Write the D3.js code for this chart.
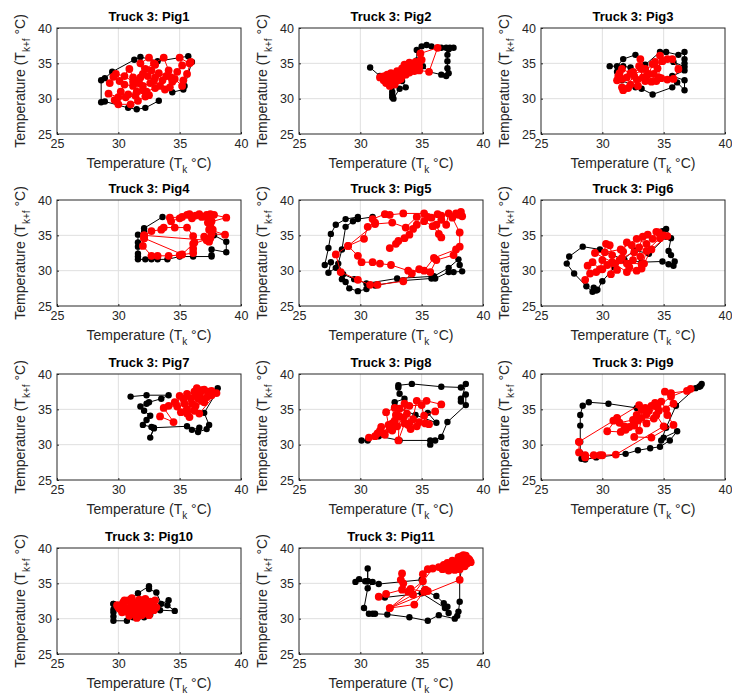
<!DOCTYPE html>
<html>
<head>
<meta charset="utf-8">
<script src="https://cdn.jsdelivr.net/npm/d3@7"></script>
<style>
  body { margin: 0; background: #fff; }
  text { font-family: "Liberation Sans", Arial, sans-serif; }
</style>
</head>
<body>
<div id="chart"></div>
<script>
// axis ticks shared by every panel
const xTicks = [25, 30, 35, 40];
const yTicks = [25, 30, 35, 40];
const pigNames = ["Pig1", "Pig2", "Pig3", "Pig4", "Pig5", "Pig6", "Pig7", "Pig8", "Pig9", "Pig10", "Pig11"];

// each series is a path of [T_k, T_k+f] points
const pig1Black = [[33.3,29.7],[32.2,28.7],[31.5,28.5],[30.8,28.7],[28.9,29.6],[28.6,29.5],[28.6,32.6],[28.9,32.9],[29.5,33.8],[31.3,35.5],[31.8,35.9],[33.2,35.3],[35.7,36.0],[36.0,35.2],[35.4,31.8],[35.3,31.3],[34.4,30.9]];
const pig1Red = [[29.3,32.2],[29.6,33.1],[30.1,32.5],[30.9,34.2],[31.2,33.0],[31.7,32.2],[31.5,31.0],[30.8,30.6],[30.0,30.2],[29.2,30.7],[29.7,29.8],[30.0,29.2],[31.0,29.2],[31.6,29.7],[32.2,30.3],[32.5,30.5],[32.0,31.2],[31.5,32.5],[32.0,33.5],[31.8,35.0],[32.5,35.8],[33.0,34.8],[32.7,34.0],[32.4,33.2],[32.9,32.5],[33.4,31.8],[33.8,31.3],[34.2,31.6],[34.4,32.4],[33.9,33.2],[33.3,33.6],[33.0,33.0],[32.6,32.2],[32.0,31.8],[31.2,31.8],[30.5,32.0],[30.2,31.0],[30.6,30.2],[31.4,30.4],[32.3,31.0],[33.0,31.5],[33.6,32.6],[34.3,33.0],[34.8,33.8],[35.2,34.7],[35.0,35.8],[35.8,35.0],[35.9,35.2],[35.6,33.5],[35.3,32.6],[35.2,31.8],[34.6,32.8],[34.1,34.0],[33.7,35.8],[32.9,35.0],[32.2,34.2],[31.8,33.0],[31.2,32.4],[30.5,33.2],[29.8,33.5]];

const pig2Black = [[30.8,34.4],[31.6,33.2],[32.2,32.6],[32.6,31.8],[32.6,31.0],[32.6,30.6],[32.6,30.2],[32.7,30.0],[33.2,31.4],[33.7,31.6],[33.4,32.5],[34.0,34.0],[34.6,35.4],[34.6,36.9],[35.0,37.4],[35.4,37.6],[35.8,37.4],[36.6,37.2],[37.0,37.2],[37.3,37.2],[37.6,37.2],[37.2,37.0],[37.1,36.2],[37.1,35.3],[37.1,34.3],[37.2,33.6],[37.0,33.2],[36.6,33.4],[35.6,33.8],[35.1,34.6]];
const pig2Red = [[31.6,33.0],[31.9,32.6],[32.3,32.9],[32.6,32.3],[32.4,31.8],[32.8,32.0],[33.1,32.6],[33.4,33.2],[33.0,33.6],[32.6,33.3],[32.2,33.4],[31.8,33.1],[32.1,32.2],[32.7,32.8],[33.3,32.8],[33.7,33.4],[33.5,34.0],[33.8,34.5],[34.0,35.1],[34.3,34.8],[34.6,34.4],[34.4,33.9],[34.0,33.7],[33.9,34.2],[34.5,35.2],[34.9,35.4],[34.8,34.6],[35.0,35.5],[34.9,36.4],[36.3,37.2],[35.6,33.8],[34.8,34.0],[34.2,34.6],[33.6,34.8],[33.4,34.3],[33.0,33.9],[32.5,33.6],[32.0,33.2]];

const pig3Black = [[30.6,34.6],[31.2,34.6],[31.7,35.6],[32.7,36.2],[33.5,34.8],[34.7,36.6],[35.2,36.6],[36.2,36.2],[36.7,36.6],[36.7,35.6],[36.7,35.0],[36.7,34.5],[35.8,35.2],[36.7,34.0],[35.7,33.2],[36.7,32.6],[36.7,31.2],[36.1,32.3],[35.7,31.6],[34.1,30.6],[33.2,31.4],[32.7,31.6],[31.6,32.6],[31.2,33.8],[31.7,34.6],[32.3,34.4]];
const pig3Red = [[31.3,33.2],[31.2,32.6],[31.6,34.2],[32.3,33.6],[32.6,33.2],[31.7,31.2],[31.6,31.6],[32.1,31.5],[32.3,32.0],[32.9,31.8],[33.3,33.0],[33.0,34.6],[33.1,35.6],[33.5,34.2],[33.8,33.5],[34.1,34.9],[34.3,35.2],[34.2,33.5],[34.6,33.0],[34.7,36.1],[35.3,35.6],[35.7,35.6],[36.2,34.2],[35.8,32.8],[35.3,32.7],[34.8,32.9],[34.4,32.5],[33.5,32.5],[32.8,32.7],[32.5,33.8],[33.2,34.2],[33.6,33.2],[34.0,32.4],[34.5,34.3],[34.9,35.3],[32.0,33.0],[31.6,32.8],[31.4,33.6]];

const pig4Black = [[33.6,37.6],[32.1,36.0],[32.1,35.5],[31.6,35.1],[31.6,34.0],[31.6,33.4],[31.6,32.4],[31.6,32.0],[31.6,31.6],[32.2,31.6],[32.7,31.6],[33.2,31.6],[34.0,31.6],[35.0,32.0],[36.1,32.0],[37.6,32.0],[37.6,32.2],[37.6,33.0],[38.8,32.6],[38.8,34.1],[37.8,35.0]];
const pig4Red = [[32.1,34.6],[32.1,35.0],[32.0,33.5],[32.7,32.1],[33.2,32.1],[34.1,32.1],[35.0,32.2],[36.1,32.5],[36.1,33.1],[36.2,34.0],[36.1,34.9],[35.6,36.1],[34.6,36.1],[33.7,36.1],[33.5,35.8],[32.7,35.6],[32.1,35.0],[37.2,34.3],[37.4,34.1],[37.0,34.8],[37.6,35.2],[38.7,35.1],[37.4,35.8],[37.5,36.3],[37.3,36.8],[38.8,37.5],[37.8,37.9],[37.5,38.0],[37.2,37.9],[36.6,38.0],[36.3,37.8],[35.8,38.0],[35.6,37.9],[35.0,37.4],[34.3,37.0],[34.2,37.5],[35.2,37.6],[36.0,37.4],[36.8,37.6],[37.3,37.4],[37.6,37.0],[37.5,36.6],[37.7,35.8],[37.5,34.6],[36.1,33.8],[35.2,32.3],[32.1,34.6]];

const pig5Black = [[29.8,37.6],[28.8,37.3],[28.0,36.5],[27.6,35.2],[27.4,33.2],[27.1,30.8],[27.6,31.2],[27.4,29.7],[28.0,30.4],[28.5,28.8],[28.8,28.4],[29.1,27.5],[29.8,27.1],[30.5,27.4],[31.2,27.9],[33.5,28.6],[35.8,28.9],[36.1,28.9],[37.2,29.8],[37.6,29.8],[38.3,29.9],[38.1,30.8],[38.0,31.6],[37.2,30.4],[36.0,29.2],[33.0,28.9],[30.5,28.2],[29.5,28.8],[28.6,29.5],[28.2,31.0],[28.5,33.0],[28.8,36.2],[29.4,37.0],[29.8,37.3],[31.0,37.6]];
const pig5Red = [[32.4,33.2],[32.9,33.8],[33.1,34.2],[33.6,34.6],[34.0,35.1],[34.3,35.9],[34.6,36.5],[35.2,37.0],[35.9,36.3],[36.4,35.2],[36.6,34.7],[36.2,36.5],[36.6,37.2],[37.0,36.5],[37.2,38.1],[37.8,38.1],[38.2,38.3],[38.3,37.7],[38.0,37.9],[37.5,37.5],[38.1,35.4],[38.1,33.4],[37.6,32.2],[36.2,31.5],[35.7,29.8],[34.8,30.2],[34.2,29.6],[33.5,28.5],[31.4,28.0],[30.8,28.0],[29.8,28.7],[28.4,29.8],[28.0,32.3],[29.0,33.5],[30.3,34.5],[30.6,36.2],[31.2,36.8],[31.0,37.3],[32.0,38.0],[32.4,37.9],[33.5,38.1],[35.2,38.1],[35.8,37.5],[36.3,38.0],[36.6,37.8],[35.5,37.6],[34.6,37.6],[33.7,36.1],[32.6,36.8],[31.2,36.6],[29.0,33.5],[29.8,32.1],[30.1,31.2],[31.0,31.2],[31.6,31.0],[32.5,30.8],[33.9,30.0],[35.2,30.0],[36.0,31.8],[37.8,33.0]];

const pig6Black = [[34.9,35.6],[35.2,35.9],[35.6,34.6],[35.4,32.8],[35.6,32.2],[35.9,31.3],[35.8,30.7],[35.4,30.9],[34.9,31.3],[33.2,31.2],[31.8,31.5],[29.8,33.0],[28.4,33.4],[27.3,32.0],[27.1,31.0],[27.7,29.6],[28.7,27.8],[29.2,27.0],[29.5,27.2],[29.3,27.6],[29.6,27.3],[30.0,28.5],[31.0,30.5],[32.6,32.9],[33.8,32.4],[35.2,34.8]];
const pig6Red = [[28.6,28.7],[29.0,29.6],[28.8,30.7],[29.2,31.2],[29.8,30.2],[30.0,31.5],[30.3,33.8],[30.6,33.6],[30.8,32.2],[30.7,29.5],[31.2,30.1],[31.4,31.5],[31.7,32.7],[32.0,34.0],[32.4,33.6],[32.5,31.5],[32.2,30.5],[32.8,30.0],[33.2,30.9],[33.1,32.0],[33.0,33.3],[33.3,34.8],[33.7,35.1],[34.1,34.5],[34.4,35.5],[34.6,35.4],[35.0,35.0],[35.3,34.9],[34.0,33.0],[33.4,31.0],[32.0,31.0],[31.0,31.0],[30.0,30.2],[29.5,29.8],[30.4,30.8],[31.6,31.8],[32.6,32.6],[33.6,33.8],[32.8,34.5],[31.5,33.0],[30.2,32.6],[29.4,32.5],[30.8,31.2],[32.0,29.8],[33.2,30.3],[33.6,32.8],[34.7,34.6]];

const pig7Black = [[31.0,36.8],[32.3,37.0],[34.1,37.0],[33.5,36.5],[32.5,36.0],[32.3,35.8],[31.8,35.4],[32.1,34.8],[32.6,34.1],[32.3,33.5],[32.0,32.8],[32.7,32.5],[32.9,32.3],[32.6,31.0],[32.9,32.4],[35.6,32.6],[36.0,32.1],[36.6,32.4],[36.5,31.8],[37.2,32.2],[37.4,32.8],[37.0,34.5],[38.0,37.4],[38.1,38.0]];
const pig7Red = [[33.4,34.0],[34.5,33.2],[33.7,35.2],[34.1,35.5],[34.8,35.4],[35.0,36.9],[35.3,36.5],[35.6,35.0],[35.6,34.4],[35.8,33.9],[36.0,35.8],[36.2,37.5],[36.4,38.0],[36.6,37.0],[36.8,36.2],[37.0,37.8],[37.2,36.7],[37.4,37.5],[37.6,37.0],[38.0,37.3],[36.6,34.4],[36.2,34.8],[35.4,35.8],[34.6,36.0],[35.1,34.6],[35.9,36.6],[36.5,36.5],[37.0,36.0],[36.3,35.5],[35.6,37.2],[36.8,37.7],[37.6,37.6],[36.4,36.8]];

const pig8Black = [[30.1,30.6],[30.6,30.6],[31.5,31.2],[33.2,30.6],[35.7,30.6],[35.7,30.0],[36.1,30.6],[36.6,31.1],[37.1,33.2],[38.6,35.6],[38.6,37.1],[38.2,36.5],[38.2,36.1],[38.6,38.6],[38.2,38.1],[36.6,38.2],[34.2,38.6],[33.1,38.4],[33.1,38.1],[33.2,37.2],[33.6,36.5],[32.8,36.0],[32.8,35.4],[34.5,34.2],[36.2,33.1],[35.5,34.5]];
const pig8Red = [[30.7,31.0],[31.2,31.2],[31.6,32.0],[31.7,32.5],[31.9,31.6],[32.3,32.8],[32.1,34.6],[32.8,35.2],[33.2,35.1],[33.1,30.6],[33.6,33.0],[33.6,35.8],[34.1,32.2],[34.6,36.2],[35.4,36.2],[36.6,35.7],[36.1,34.7],[35.2,34.1],[35.6,32.9],[34.8,33.2],[34.3,33.6],[33.8,34.4],[33.2,34.0],[32.8,33.4],[32.4,32.2],[32.0,31.4],[31.4,31.6],[32.6,32.0],[33.0,32.6],[33.5,33.8],[34.0,33.0],[34.6,32.6],[35.3,33.0],[35.0,35.6],[34.0,35.5],[32.9,34.2],[32.6,33.0],[33.9,32.8]];

const pig9Black = [[32.8,35.2],[30.5,35.8],[28.9,36.0],[28.4,35.5],[28.2,34.2],[28.2,32.7],[28.2,30.4],[28.2,28.8],[28.3,28.0],[28.6,27.9],[29.5,28.2],[31.9,28.7],[32.9,29.2],[33.9,29.5],[34.7,29.7],[35.5,30.6],[36.1,31.9],[35.0,31.0],[34.8,30.6],[35.2,32.4],[36.0,35.5],[37.6,38.0],[37.9,38.2],[38.1,38.6],[38.0,38.3]];
const pig9Red = [[28.1,30.4],[33.0,35.6],[33.2,34.9],[32.5,33.5],[31.4,33.1],[30.9,33.4],[31.2,33.8],[30.4,31.9],[31.5,31.8],[31.9,32.1],[32.2,32.5],[32.8,34.2],[33.5,35.2],[33.8,34.8],[34.0,35.5],[34.3,35.9],[34.8,36.1],[35.2,35.0],[35.3,34.2],[35.8,32.8],[34.0,31.0],[32.6,31.1],[33.0,32.0],[33.2,33.8],[34.2,33.7],[34.6,34.8],[35.8,35.8],[35.1,37.5],[35.6,37.3],[36.9,37.6],[37.2,37.9],[35.6,36.8],[34.5,35.3],[33.6,34.3],[32.6,32.7],[31.8,32.6],[32.9,33.4],[33.6,33.0],[34.4,34.2],[35.0,32.6],[31.1,28.6],[30.0,28.5],[29.8,28.5],[29.3,28.5],[28.6,28.5],[28.6,28.2],[28.1,28.9],[28.1,30.4]];

const pig10Black = [[29.6,32.1],[29.6,31.3],[29.6,30.9],[29.6,30.3],[29.6,29.7],[30.7,29.7],[31.2,30.2],[31.6,30.2],[32.1,30.2],[32.6,30.6],[33.4,31.2],[34.6,31.1],[34.0,31.9],[34.1,32.6],[33.5,32.1],[33.1,33.7],[32.5,34.2],[32.5,34.6],[31.6,33.6],[31.0,32.8],[30.2,32.0],[29.6,32.1]];
const pig10Red = [[29.9,31.9],[30.1,31.4],[30.4,32.3],[30.6,31.0],[30.8,32.6],[30.9,30.4],[31.0,31.7],[31.1,32.9],[31.2,30.8],[31.3,31.4],[31.4,32.2],[31.5,30.1],[31.6,31.0],[31.7,32.7],[31.8,31.8],[31.9,30.5],[32.0,32.3],[32.1,31.2],[32.2,32.8],[32.3,30.8],[32.4,31.7],[32.6,32.4],[32.7,31.3],[32.8,32.0],[33.0,32.6],[33.1,31.6],[32.5,30.5],[31.9,31.0],[31.4,31.8],[30.7,31.5],[30.3,30.9],[30.0,31.6],[30.5,32.6],[31.2,32.3],[31.9,32.6],[32.4,32.1],[32.9,31.2],[31.6,30.6],[30.9,30.9],[30.4,31.8]];

const pig11Black = [[38.3,37.5],[38.1,35.5],[38.1,32.4],[38.0,31.0],[37.9,30.4],[37.7,30.0],[36.4,30.5],[35.5,29.7],[34.0,30.2],[32.2,30.6],[31.2,30.7],[31.0,30.7],[30.7,30.7],[30.3,31.5],[30.6,34.3],[31.0,35.2],[30.6,35.3],[30.6,37.1],[30.6,35.3],[29.9,35.6],[29.6,35.2],[30.4,35.3],[31.5,34.9],[35.0,35.5],[35.2,34.0],[36.2,33.2],[36.8,32.2],[37.1,31.7],[37.2,30.8],[36.9,31.5],[35.0,33.6],[32.0,33.0],[31.5,33.1]];
const pig11Red = [[31.5,33.1],[32.1,33.5],[33.4,34.1],[33.3,35.5],[33.4,36.4],[33.5,35.0],[33.9,33.8],[34.1,34.2],[35.2,33.8],[35.5,33.9],[35.3,34.1],[34.4,32.0],[32.4,31.5],[35.1,35.3],[35.1,36.3],[35.5,37.0],[35.9,37.1],[34.3,33.4],[32.4,31.5],[38.1,35.5],[38.1,37.0],[36.4,37.3],[36.7,37.0],[37.0,37.4],[37.2,36.8],[37.4,37.6],[37.6,38.0],[37.8,37.3],[38.0,38.4],[38.2,38.8],[38.4,38.2],[38.6,38.9],[38.8,38.5],[39.0,38.0],[38.7,37.8],[38.3,37.6],[37.9,37.9],[37.5,38.2],[37.1,37.9],[36.8,37.6],[37.3,37.2],[37.7,36.9],[38.1,37.2],[38.5,37.4],[38.9,38.3],[38.4,39.0],[38.0,38.7]];

const blackSeries = [pig1Black, pig2Black, pig3Black, pig4Black, pig5Black, pig6Black, pig7Black, pig8Black, pig9Black, pig10Black, pig11Black];
const redSeries = [pig1Red, pig2Red, pig3Red, pig4Red, pig5Red, pig6Red, pig7Red, pig8Red, pig9Red, pig10Red, pig11Red];

const width = 732, height = 697;
const colLeft = [57, 299, 541], rowTop = [28, 200, 374, 548];
const pw = 184, ph = 106;
const axisColor = "#262626";

const svg = d3.select("#chart").append("svg")
    .attr("width", width)
    .attr("height", height);

const x = d3.scaleLinear().domain([25, 40]).range([0, pw]);
const y = d3.scaleLinear().domain([25, 40]).range([ph, 0]);
const line = d3.line().x(d => x(d[0])).y(d => y(d[1]));

pigNames.forEach((name, i) => {
    const g = svg.append("g")
        .attr("transform", `translate(${colLeft[i % 3]},${rowTop[Math.floor(i / 3)]})`);

    g.append("rect").attr("width", pw).attr("height", ph).attr("fill", "#fff");

    // grid
    g.append("g").selectAll("line").data(xTicks.slice(1, -1)).join("line")
        .attr("x1", d => x(d)).attr("x2", d => x(d))
        .attr("y1", 0).attr("y2", ph)
        .attr("stroke", "#dfdfdf").attr("stroke-width", 1);
    g.append("g").selectAll("line").data(yTicks.slice(1, -1)).join("line")
        .attr("y1", d => y(d)).attr("y2", d => y(d))
        .attr("x1", 0).attr("x2", pw)
        .attr("stroke", "#dfdfdf").attr("stroke-width", 1);

    // series: black first, red on top
    [[blackSeries[i], "#000", 3.2], [redSeries[i], "#ff0000", 3.9]].forEach(([pts, col, r]) => {
        g.append("path").datum(pts)
            .attr("fill", "none").attr("stroke", col).attr("stroke-width", 1)
            .attr("d", line);
        g.append("g").selectAll("circle").data(pts).join("circle")
            .attr("cx", d => x(d[0])).attr("cy", d => y(d[1]))
            .attr("r", r).attr("fill", col);
    });

    // axes
    const xa = g.append("g").attr("transform", `translate(0,${ph})`)
        .call(d3.axisBottom(x).tickValues(xTicks).tickSize(-2).tickPadding(5).tickFormat(d3.format("d")));
    const ya = g.append("g")
        .call(d3.axisLeft(y).tickValues(yTicks).tickSize(-2).tickPadding(5).tickFormat(d3.format("d")));
    [xa, ya].forEach(a => {
        a.select(".domain").remove();
        a.selectAll("line").attr("stroke", axisColor);
        a.selectAll("text").attr("fill", axisColor).style("font-size", "12.5px");
    });
    g.append("rect").attr("width", pw).attr("height", ph)
        .attr("fill", "none").attr("stroke", axisColor).attr("stroke-width", 1);

    // title
    g.append("text")
        .attr("x", pw / 2).attr("y", -7)
        .attr("text-anchor", "middle")
        .style("font-size", "13px").style("font-weight", "bold")
        .attr("fill", "#000")
        .text(`Truck 3: ${name}`);

    // x label
    const xl = g.append("text")
        .attr("x", pw / 2).attr("y", ph + 34)
        .attr("text-anchor", "middle")
        .style("font-size", "14px").attr("fill", axisColor);
    xl.append("tspan").text("Temperature (T");
    xl.append("tspan").attr("dy", 5).style("font-size", "10px").text("k");
    xl.append("tspan").attr("dy", -5).text(" \u00B0C)");

    // y label
    const yl = g.append("text")
        .attr("transform", `translate(-32,${ph / 2}) rotate(-90)`)
        .attr("text-anchor", "middle")
        .style("font-size", "14px").attr("fill", axisColor);
    yl.append("tspan").text("Temperature (T");
    yl.append("tspan").attr("dy", 5).style("font-size", "10px").text("k+f");
    yl.append("tspan").attr("dy", -5).text(" \u00B0C)");
});
</script>
</body>
</html>
